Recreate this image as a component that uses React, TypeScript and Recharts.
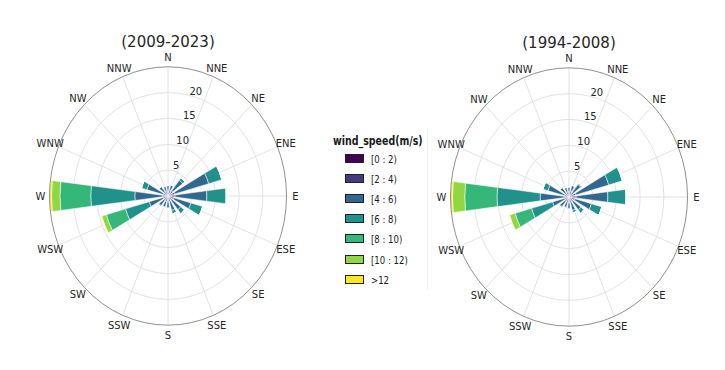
import React from "react"
import { PolarAngleAxis, PolarGrid, PolarRadiusAxis, RadialBar, RadialBarChart } from "recharts"

const DIRS = ["N", "NNE", "NE", "ENE", "E", "ESE", "SE", "SSE", "S", "SSW", "SW", "WSW", "W", "WNW", "NW", "NNW"]
const SPEED_BINS = ["[0 : 2)", "[2 : 4)", "[4 : 6)", "[6 : 8)", "[8 : 10)", "[10 : 12)", ">12"]
const BIN_COLORS = ["#440154", "#443983", "#31688e", "#21918c", "#35b779", "#90d743", "#fde725"]
const RADIUS_TICKS = [5, 10, 15, 20]
const RADIUS_MAX = 25

// frequency (%) per direction, one array per speed bin — 2009-2023
const late0 = [0.3, 0.3, 0.3, 0.3, 0.3, 0.3, 0.3, 0.3, 0.3, 0.3, 0.3, 0.2, 0.3, 0.2, 0.3, 0.3]
const late1 = [0.8, 0.9, 1.0, 1.2, 1.2, 1.0, 0.8, 0.8, 0.8, 0.8, 0.8, 0.8, 0.9, 0.8, 0.8, 0.7]
const late2 = [0.9, 1.0, 2.6, 7.4, 6.7, 3.7, 2.3, 1.8, 1.2, 1.1, 1.3, 3.1, 5.8, 3.6, 1.2, 0.9]
const late3 = [0.1, 0.1, 0.6, 2.9, 4.0, 2.6, 1.0, 0.7, 0.2, 0.2, 0.2, 5.2, 9.3, 1.2, 0.1, 0.1]
const late4 = [0, 0, 0, 0, 0.2, 0, 0, 0, 0, 0, 0, 4.2, 6.5, 0, 0, 0]
const late5 = [0, 0, 0, 0, 0, 0, 0, 0, 0, 0, 0, 1.0, 1.8, 0, 0, 0]
const late6 = [0, 0, 0, 0, 0, 0, 0, 0, 0, 0, 0, 0.1, 0.4, 0, 0, 0]

// 1994-2008
const early0 = [0.3, 0.3, 0.3, 0.3, 0.3, 0.3, 0.3, 0.3, 0.3, 0.3, 0.3, 0.2, 0.3, 0.2, 0.3, 0.3]
const early1 = [0.8, 0.9, 0.9, 1.2, 1.2, 1.0, 0.8, 0.8, 0.8, 0.8, 0.8, 0.7, 0.8, 0.8, 0.8, 0.7]
const early2 = [0.8, 1.1, 1.9, 7.2, 6.7, 3.6, 2.1, 1.6, 1.1, 1.0, 1.3, 2.7, 5.0, 3.6, 1.2, 0.9]
const early3 = [0.1, 0.1, 0.3, 3.0, 3.8, 2.3, 0.8, 0.5, 0.2, 0.2, 0.2, 4.6, 9.1, 1.1, 0.1, 0.1]
const early4 = [0, 0, 0, 0, 0.1, 0, 0, 0, 0, 0, 0, 3.6, 6.8, 0, 0, 0]
const early5 = [0, 0, 0, 0, 0, 0, 0, 0, 0, 0, 0, 1.2, 2.6, 0, 0, 0]
const early6 = [0, 0, 0, 0, 0, 0, 0, 0, 0, 0, 0, 0.1, 0.4, 0, 0, 0]

const buildRows = (bins: number[][]) =>
  DIRS.map((dir, i) => {
    const row: { [key: string]: any } = { dir }
    bins.forEach((b, k) => (row[`s${k}`] = b[i]))
    return row
  })

const lateData = buildRows([late0, late1, late2, late3, late4, late5, late6])
const earlyData = buildRows([early0, early1, early2, early3, early4, early5, early6])

const W = 300
const H = 340
const CX = 150
const CY = 170
const R = 118.5
const STRETCH = 1.09
const FONT = "'DejaVu Sans', sans-serif"
const STEP = 360 / DIRS.length
// category bands start at the tick, so shift the band by half a step to centre each sector on its direction
const START = 90 - STEP / 2
const GRID_ANGLES = DIRS.map((_, i) => 90 - i * STEP)

const AngleTick = (props: any) => {
  const { x, y, payload } = props
  const a = Math.atan2(-(y - CY), x - CX) + (STEP / 2) * (Math.PI / 180)
  return (
    <text
      x={CX + Math.cos(a) * (R + 9)}
      y={CY - Math.sin(a) * (R + 9)}
      textAnchor="middle"
      dominantBaseline="central"
      fontSize={10}
      fontFamily={FONT}
      fill="#262626"
    >
      {payload.value}
    </text>
  )
}

const RadiusTick = (props: any) => {
  const { x, y, payload } = props
  const a = (74 * Math.PI) / 180
  return (
    <text
      x={x + Math.cos(a) * 6}
      y={y - Math.sin(a) * 6}
      textAnchor="middle"
      dominantBaseline="central"
      fontSize={10}
      fontFamily={FONT}
      fill="#262626"
    >
      {payload.value}
    </text>
  )
}

const WindRose = ({ data, title, left, top }: { data: any[]; title: string; left: number; top: number }) => (
  <div
    style={{
      position: "absolute",
      left,
      top,
      width: W,
      height: H,
      transform: `scaleY(${STRETCH})`,
      transformOrigin: `${CX}px ${CY}px`,
    }}
  >
    <div
      style={{
        position: "absolute",
        left: 0,
        width: W,
        top: CY - 142 - 9,
        height: 18,
        lineHeight: "18px",
        textAlign: "center",
        fontFamily: FONT,
        fontSize: 15,
        color: "#262626",
      }}
    >
      {title}
    </div>
    <RadialBarChart
      width={W}
      height={H}
      cx={CX}
      cy={CY}
      innerRadius={0}
      outerRadius={R}
      startAngle={START}
      endAngle={START - 360}
      layout="centric"
      data={data}
      barCategoryGap="19%"
      margin={{ top: 0, right: 0, bottom: 0, left: 0 }}
      style={{ overflow: "visible" }}
    >
      <PolarGrid gridType="circle" stroke="#dcdcdc" strokeWidth={0.8} polarAngles={GRID_ANGLES} />
      <PolarAngleAxis
        dataKey="dir"
        type="category"
        axisLineType="circle"
        axisLine={{ stroke: "#7a7a7a", strokeWidth: 0.8 }}
        tickLine={false}
        tick={AngleTick}
      />
      <PolarRadiusAxis
        type="number"
        angle={74}
        domain={[0, RADIUS_MAX]}
        ticks={RADIUS_TICKS}
        axisLine={false}
        tickLine={false}
        tick={RadiusTick}
      />
      {BIN_COLORS.map((color, k) => (
        <RadialBar
          key={k}
          dataKey={`s${k}`}
          stackId="a"
          fill={color}
          stroke="#ffffff"
          strokeWidth={0.5}
          isAnimationActive={false}
        />
      ))}
    </RadialBarChart>
  </div>
)

const SpeedLegend = () => (
  <div
    style={{
      position: "absolute",
      left: 330,
      top: 128,
      width: 97,
      height: 162,
      borderRight: "1px solid #efefef",
      fontFamily: "'DejaVu Sans Condensed', 'DejaVu Sans', sans-serif",
      color: "#1a1a1a",
    }}
  >
    <div style={{ position: "absolute", left: 3, top: 6, fontSize: 10.5, fontWeight: "bold", whiteSpace: "nowrap", transform: "scaleY(1.15)" }}>
      wind_speed(m/s)
    </div>
    {SPEED_BINS.map((label, k) => (
      <div key={label} style={{ position: "absolute", left: 15, top: 25 + k * 20.2, height: 10, display: "flex", alignItems: "center" }}>
        <div style={{ width: 17, height: 7, background: BIN_COLORS[k], border: "1px solid #222", marginRight: 7 }} />
        <span style={{ fontSize: 9.5, whiteSpace: "nowrap", transform: "scaleY(1.15)" }}>{label}</span>
      </div>
    ))}
  </div>
)

export default function App() {
  return (
    <div style={{ position: "absolute", left: 0, top: 0, width: 725, height: 370, background: "#fff", overflow: "hidden" }}>
      <WindRose data={lateData} title="(2009-2023)" left={168 - CX} top={195.5 - CY} />
      <SpeedLegend />
      <WindRose data={earlyData} title="(1994-2008)" left={569 - CX} top={197 - CY} />
    </div>
  )
}
